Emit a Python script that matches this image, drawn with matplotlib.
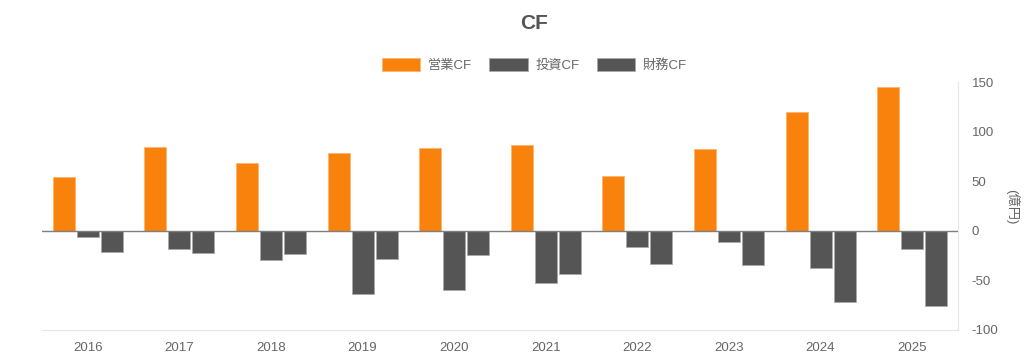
import matplotlib.pyplot as plt
import numpy as np

plt.rcParams['font.family'] = ['Liberation Sans', 'Noto Sans CJK JP', 'DejaVu Sans']
plt.rcParams['axes.unicode_minus'] = False

# Data (億円)
years = ['2016', '2017', '2018', '2019', '2020', '2021', '2022', '2023', '2024', '2025']
operating_cf = [54, 85, 68, 78, 83, 87, 55, 82, 120, 145]
investing_cf = [-6, -18, -29, -64, -60, -53, -16, -11, -37, -18]
financing_cf = [-21, -22, -23, -28, -24, -44, -33, -34, -72, -76]

fig = plt.figure(figsize=(10.24, 3.62), dpi=100)
ax = fig.add_axes([0.041, 0.0884, 0.8945, 0.685])

x = np.arange(len(years))
w = 0.24
off = 0.262
ax.bar(x - off, operating_cf, width=w, color='#f8820b', edgecolor='#fbb56f', linewidth=0.6, label='営業CF', zorder=2)
ax.bar(x, investing_cf, width=w, color='#555555', edgecolor='#aaaaaa', linewidth=0.6, label='投資CF', zorder=2)
ax.bar(x + off, financing_cf, width=w, color='#555555', edgecolor='#aaaaaa', linewidth=0.6, label='財務CF', zorder=2)

ax.axhline(0, color='#7f7f7f', linewidth=1, zorder=3)

ax.set_xlim(-0.5, len(years) - 0.5)
ax.set_ylim(-100, 150)
ax.set_xticks(x)
ax.set_xticklabels(years)
ax.set_yticks([-100, -50, 0, 50, 100, 150])
ax.yaxis.tick_right()
ax.tick_params(axis='both', length=0, colors='#666666', labelsize=9.5)
ax.tick_params(axis='x', pad=9)
ax.tick_params(axis='y', pad=10)
for lab in ax.get_yticklabels():
    lab.set_horizontalalignment('left')

for s in ['top', 'left']:
    ax.spines[s].set_visible(False)
ax.spines['right'].set_color('#e6e6e6')
ax.spines['bottom'].set_color('#e6e6e6')

fig.text(0.988, 0.43, '(億円)', rotation=270, color='#666666', fontsize=9.5, ha='center', va='center')

fig.text(0.522, 0.935, 'CF', ha='center', va='center', fontsize=15, fontweight='bold', color='#555555')
fig.legend(loc='center', bbox_to_anchor=(0.522, 0.82), ncol=3, frameon=False,
           handlelength=2.9, handleheight=1.1, columnspacing=1.3, handletextpad=0.6,
           fontsize=9.5, labelcolor='#666666')

plt.savefig('out.png', dpi=100)
